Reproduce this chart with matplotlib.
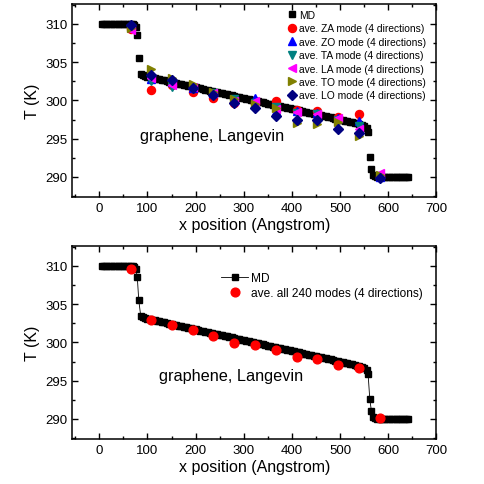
import matplotlib
matplotlib.use("Agg")
import matplotlib.pyplot as plt
import numpy as np
from matplotlib.ticker import MultipleLocator

plt.rcParams["font.family"] = ["Liberation Sans", "DejaVu Sans"]

# MD temperature profile
md_x_left = [5, 10, 15, 20, 25, 30, 35, 40, 45, 50, 55, 60, 65, 70, 73, 76, 79, 82, 86]
md_T_left = [310.0, 310.0, 310.02, 310.0, 310.01, 310.0, 310.02, 310.01, 310.0, 310.02,
             310.01, 310.0, 309.98, 309.95, 309.85, 309.6, 308.5, 305.5, 303.5]
md_x_mid = list(range(90, 556, 5))
md_T_mid = [303.32, 303.20, 303.10, 303.03, 302.95, 302.87, 302.80, 302.74, 302.66, 302.60,
            302.52, 302.46, 302.38, 302.31, 302.25, 302.17, 302.11, 302.03, 301.97, 301.89,
            301.83, 301.75, 301.69, 301.61, 301.55, 301.47, 301.41, 301.33, 301.27, 301.19,
            301.13, 301.05, 300.99, 300.92, 300.85, 300.78, 300.71, 300.64, 300.57, 300.50,
            300.43, 300.36, 300.29, 300.22, 300.15, 300.08, 300.01, 299.94, 299.87, 299.80,
            299.73, 299.66, 299.59, 299.52, 299.45, 299.38, 299.31, 299.24, 299.17, 299.10,
            299.03, 298.96, 298.89, 298.82, 298.75, 298.68, 298.61, 298.54, 298.47, 298.40,
            298.33, 298.26, 298.19, 298.12, 298.05, 297.98, 297.91, 297.84, 297.77, 297.70,
            297.63, 297.56, 297.49, 297.42, 297.35, 297.28, 297.21, 297.14, 297.06, 296.98,
            296.90, 296.80, 296.66, 296.40]
md_x_right = [558, 561.5, 565, 568, 572, 577, 582, 587, 592, 597, 602, 607, 612, 617,
              622, 627, 632, 637, 641]
md_T_right = [295.9, 292.6, 291.0, 290.3, 290.1, 290.0, 290.0, 290.0, 290.0, 290.0,
              290.0, 290.0, 290.0, 290.0, 290.0, 290.0, 290.0, 290.0, 290.0]

md_x = md_x_left + md_x_mid + md_x_right
md_T = md_T_left + md_T_mid + md_T_right

# mode-averaged temperatures
mode_x = [65, 108, 151, 194, 237, 280, 324, 367, 410, 453, 496, 539, 582]
T_ZA = [309.3, 301.3, 302.0, 301.1, 300.3, 299.7, 299.7, 299.95, 298.7, 298.65, 297.8, 298.2, 290.0]
T_ZO = [309.6, 302.8, 302.4, 301.6, 301.0, 300.2, 300.3, 298.65, 298.65, 298.4, 297.7, 297.3, 290.0]
T_TA = [309.4, 302.55, 301.7, 301.5, 300.9, 300.2, 299.7, 299.1, 298.4, 298.2, 297.5, 296.7, 290.1]
T_LA = [309.2, 302.9, 302.0, 301.8, 300.9, 299.95, 299.95, 298.9, 298.5, 298.2, 297.7, 296.2, 290.55]
T_TO = [309.5, 304.1, 302.9, 302.2, 301.1, 300.2, 299.5, 298.95, 297.1, 296.9, 297.2, 295.4, 290.3]
T_LO = [309.8, 303.3, 302.6, 301.6, 300.7, 299.7, 299.0, 297.9, 297.5, 297.5, 296.3, 295.8, 289.8]
T_all = [309.55, 302.9, 302.3, 301.6, 300.8, 299.98, 299.6, 298.98, 298.1, 297.8, 297.1, 296.6, 290.1]

fig = plt.figure(figsize=(4.85, 4.85), dpi=100)
ax1 = fig.add_axes([0.149, 0.592, 0.751, 0.398])
ax2 = fig.add_axes([0.149, 0.093, 0.751, 0.398])

ax1.plot(md_x, md_T, "s", color="black", ms=4.8, label="MD", zorder=2)
modes = [(T_ZA, "o", "#ff0000", "ZA"), (T_ZO, "^", "#0000ff", "ZO"),
         (T_TA, "v", "#008080", "TA"), (T_LA, "<", "#ff00ff", "LA"),
         (T_TO, ">", "#808000", "TO"), (T_LO, "D", "#000080", "LO")]
for T, m, c, name in modes:
    ms = 4.8 if m == "D" else 5.8
    ax1.plot(mode_x, T, m, color=c, ms=ms, ls="none",
             label="ave. %s mode (4 directions)" % name, zorder=3)

ax2.plot(md_x, md_T, "-s", color="black", ms=4.8, lw=0.6, label="MD", zorder=2)
ax2.plot(mode_x, T_all, "o", color="#ff0000", ms=6.3, ls="none",
         label="ave. all 240 modes (4 directions)", zorder=3)

for ax in (ax1, ax2):
    ax.set_xlim(-56, 700)
    ax.set_ylim(287.4, 312.6)
    ax.xaxis.set_major_locator(MultipleLocator(100))
    ax.xaxis.set_minor_locator(MultipleLocator(50))
    ax.yaxis.set_major_locator(MultipleLocator(5))
    ax.yaxis.set_minor_locator(MultipleLocator(2.5))
    ax.tick_params(which="both", direction="in", top=True, right=True, labelsize=9.5, width=1)
    ax.tick_params(which="major", length=4)
    ax.tick_params(which="minor", length=2.5)
    for s in ax.spines.values():
        s.set_linewidth(1.1)
    ax.set_xlabel("x position (Angstrom)", fontsize=11.5, labelpad=2)
    ax.set_ylabel("T (K)", fontsize=11.5, labelpad=4)

ax1.text(235, 295.4, "graphene, Langevin", fontsize=11.7, ha="center", va="center")
ax2.text(273, 295.7, "graphene, Langevin", fontsize=11.7, ha="center", va="center")

ax1.legend(loc="upper left", bbox_to_anchor=(0.57, 1.0), frameon=False, fontsize=7.4,
           handlelength=1.2, handletextpad=0.1, labelspacing=0.33, borderaxespad=0.2)
ax2.legend(loc="upper left", bbox_to_anchor=(0.39, 0.9), frameon=False, fontsize=8.6,
           handlelength=2.2, handletextpad=0.25, labelspacing=0.22, borderaxespad=0.2)

fig.savefig("out.png", dpi=100)
